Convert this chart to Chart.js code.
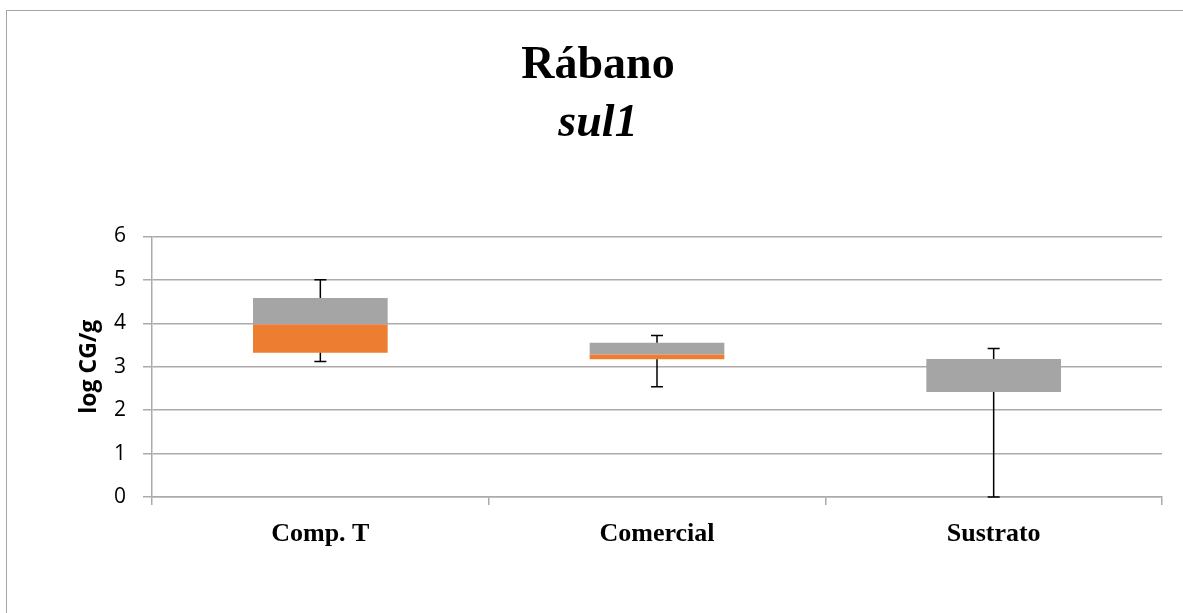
<!DOCTYPE html>
<html>
<head>
    <script src="https://cdn.jsdelivr.net/npm/chart.js"></script>
    <style>
        html, body { margin: 0; padding: 0; overflow: hidden; background: #fff; }
        #frame {
            position: absolute; left: 6px; top: 10px; width: 1250px; height: 700px;
            border: 1.5px solid #a6a6a6; box-sizing: border-box;
        }
        #wrap { position: absolute; left: 8px; top: 12px; width: 1180px; height: 600px; }
    </style>
</head>
<body>
    <div id="frame"></div>
    <div id="wrap"><canvas id="chart"></canvas></div>
    <script>
        const categories = ['Comp. T', 'Comercial', 'Sustrato'];
        const minVals = [3.12, 2.54, 0];
        const q1Vals = [3.32, 3.17, 2.42];
        const medVals = [3.97, 3.28, 2.42];
        const q3Vals = [4.58, 3.55, 3.18];
        const maxVals = [5.0, 3.72, 3.42];
        const yMin = 0, yMax = 6, yStep = 1;

        const gridColor = '#ababab';

        // whiskers, drawn like excel error bars
        const whiskers = {
            id: 'whiskers',
            afterDatasetsDraw(chart) {
                const ctx = chart.ctx;
                const xs = chart.scales.x, ys = chart.scales.y;
                ctx.save();
                ctx.strokeStyle = '#000';
                ctx.lineWidth = 1.5;
                categories.forEach((c, i) => {
                    const x = xs.getPixelForValue(i);
                    const segs = [[q3Vals[i], maxVals[i]], [q1Vals[i], minVals[i]]];
                    segs.forEach(s => {
                        const y0 = ys.getPixelForValue(s[0]);
                        const y1 = ys.getPixelForValue(s[1]);
                        ctx.beginPath();
                        ctx.moveTo(x, y0);
                        ctx.lineTo(x, y1);
                        ctx.moveTo(x - 6, y1);
                        ctx.lineTo(x + 6, y1);
                        ctx.stroke();
                    });
                });
                ctx.restore();
            }
        };

        const ctx = document.getElementById('chart').getContext('2d');
        new Chart(ctx, {
            type: 'bar',
            data: {
                labels: categories,
                datasets: [{
                    label: 'Q1-Mediana',
                    data: categories.map((c, i) => [q1Vals[i], medVals[i]]),
                    backgroundColor: '#ED7D31',
                    borderWidth: 0
                }, {
                    label: 'Mediana-Q3',
                    data: categories.map((c, i) => [medVals[i], q3Vals[i]]),
                    backgroundColor: '#A5A5A5',
                    borderWidth: 0
                }]
            },
            options: {
                responsive: true,
                maintainAspectRatio: false,
                animation: false,
                grouped: false,
                categoryPercentage: 1,
                barPercentage: 0.4,
                layout: { padding: { left: 26, right: 26, top: 0, bottom: 0 } },
                plugins: {
                    legend: { display: false },
                    tooltip: { enabled: false },
                    title: {
                        display: true,
                        text: 'Rábano',
                        color: '#000',
                        font: { family: 'Liberation Serif', size: 46, weight: 'bold' },
                        padding: { top: 27, bottom: 0 }
                    },
                    subtitle: {
                        display: true,
                        text: 'sul1',
                        color: '#000',
                        font: { family: 'Liberation Serif', size: 46, weight: 'bold', style: 'italic' },
                        padding: { top: 2, bottom: 85 }
                    }
                },
                scales: {
                    x: {
                        grid: {
                            offset: true,
                            drawOnChartArea: false,
                            drawTicks: true,
                            tickLength: 8,
                            color: gridColor,
                            lineWidth: 1.5
                        },
                        border: { display: true, color: gridColor, width: 1.5 },
                        ticks: {
                            color: '#000',
                            padding: 14,
                            font: { family: 'Liberation Serif', size: 26, weight: 'bold' }
                        },
                        afterFit(scale) { scale.height = 115; }
                    },
                    y: {
                        min: yMin,
                        max: yMax,
                        ticks: {
                            stepSize: yStep,
                            color: '#000',
                            padding: 17,
                            font: { family: 'Open Sans', size: 21 }
                        },
                        grid: { color: gridColor, lineWidth: 1.5, tickLength: 9 },
                        border: { display: true, color: gridColor, width: 1.5 },
                        title: {
                            display: true,
                            text: 'log CG/g',
                            color: '#000',
                            font: { family: 'Open Sans', size: 23, weight: 'bold' },
                            padding: { top: 42, bottom: 0 }
                        },
                        afterFit(scale) { scale.width = 118; }
                    }
                }
            },
            plugins: [whiskers]
        });
    </script>
</body>
</html>
